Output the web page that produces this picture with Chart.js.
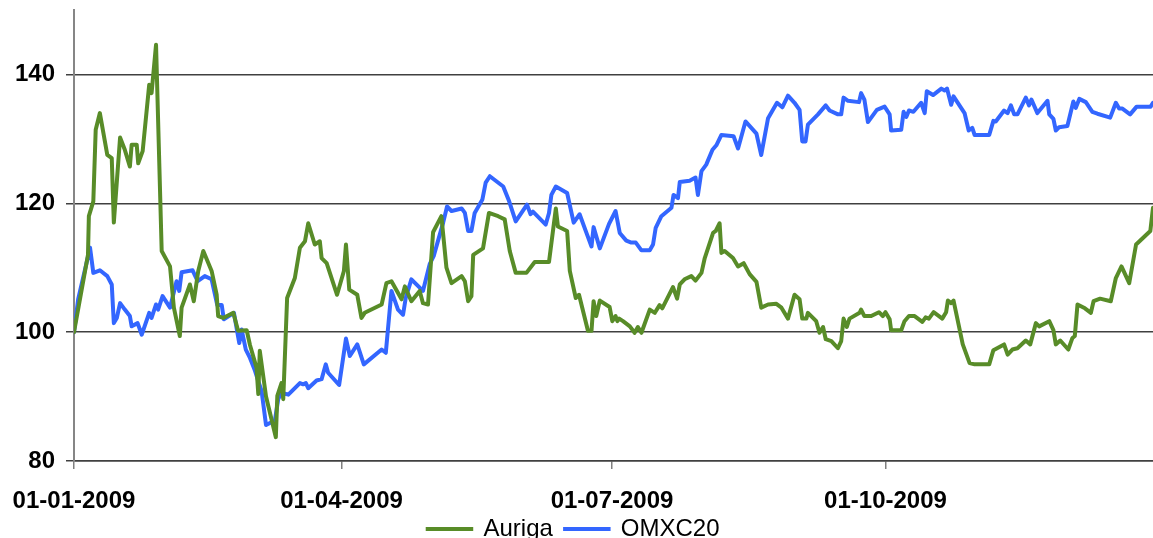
<!DOCTYPE html>
<html><head><meta charset="utf-8">
<script src="https://cdn.jsdelivr.net/npm/chart.js@4/dist/chart.umd.min.js"></script>
<style>html,body{margin:0;padding:0;background:#fff;overflow:hidden}#wrap{width:1153px;height:538px}</style>
</head><body><div id="wrap"><canvas id="c" width="1153" height="538"></canvas></div>
<script>
const seriesNames = ['Auriga', 'OMXC20'];
const tickDays = [0, 90, 181, 273];
const tickLabels = ['01-01-2009', '01-04-2009', '01-07-2009', '01-10-2009'];
const yTicks = [80, 100, 120, 140];

// days since 2009-01-01
const aurigaDays = [0,4.7,5.0,6.5,7.3,8.7,11.2,12.7,13.4,15.5,17.1,18.8,19.4,21.1,21.6,23.1,25.3,26.1,27.6,29.5,32.3,33.6,35.6,36.2,39.0,40.3,41.8,43.5,46.3,48.0,48.5,50.2,53.6,55.2,58.1,59.2,61.4,62.0,62.5,64.6,67.9,68.4,69.8,70.4,71.7,74.3,76.0,77.7,78.8,81.0,82.7,83.3,85.0,88.5,90.8,91.5,92.6,95.3,96.7,97.8,103.5,105.1,106.8,110.2,111.3,113.5,116.3,117.4,119.1,120.8,123.6,125.3,127.0,130.4,131.5,132.6,133.7,134.3,137.6,139.6,142.7,144.9,146.6,148.6,152.2,155.0,159.8,162.1,162.8,165.9,166.8,168.8,169.9,172.9,174.1,174.8,175.7,176.9,180.2,181.1,182.2,182.8,183.4,184.7,187.0,188.6,189.7,190.9,193.7,195.4,197.0,197.9,201.5,202.9,203.8,205.4,207.7,209.1,211.1,212.2,215.0,215.9,217.2,217.8,218.9,221.7,223.4,225.3,227.3,229.6,231.2,233.5,236.3,238.0,240.2,242.4,244.1,245.0,246.4,246.9,249.7,250.8,252.0,252.9,254.8,257.0,258.1,258.9,260.0,260.9,264.3,264.8,265.9,268.2,270.8,272.1,273.0,274.4,274.9,278.3,279.4,280.9,282.8,285.4,286.5,287.6,289.2,292.1,293.4,294.0,295.1,295.9,299.0,301.3,303.0,307.9,309.3,312.9,314.1,315.7,317.4,320.2,321.7,323.6,324.7,328.1,329.5,330.3,331.8,334.5,335.9,336.7,337.6,340.1,342.1,343.0,345.2,348.8,350.5,352.4,355.0,357.3,362.1,363];
const aurigaValues = [100,112.0,118.0,120.3,131.4,134.0,127.5,127.0,117.0,130.2,128.3,125.7,129.1,129.1,126.2,128.1,138.4,137.1,144.6,112.6,110.2,103.8,99.4,103.8,107.4,104.8,109.5,112.6,109.5,105.8,102.5,102.2,103.0,100.2,100.3,98.0,94.5,90.4,97.1,90.0,83.7,90.1,92.1,89.6,105.3,108.4,113.1,114.1,116.9,113.6,114.1,111.5,110.7,105.8,109.5,113.6,106.6,105.8,102.2,103.0,104.3,107.6,107.9,105.1,107.1,104.8,106.4,104.5,104.3,115.5,118.0,110.0,107.6,108.7,107.9,104.8,105.6,112.0,113.0,118.5,118.0,117.5,112.6,109.2,109.2,110.9,110.9,119.2,116.4,115.7,109.5,105.3,105.8,100.2,100.2,104.8,102.5,104.9,103.9,101.7,102.5,101.7,102.1,101.7,100.9,99.9,100.8,99.9,103.5,103.0,104.2,103.7,107.0,105.2,107.4,108.2,108.7,108.0,109.2,111.5,115.4,115.7,116.9,112.3,112.6,111.5,110.2,110.7,109.0,107.8,103.8,104.3,104.4,103.8,102.1,105.8,105.1,102.1,102.1,103.0,101.7,99.9,100.8,98.9,98.6,97.5,98.6,102.1,100.8,102.1,103.0,103.5,102.5,102.5,103.1,102.5,103.1,102.0,100.3,100.3,101.7,102.5,102.5,101.6,102.3,102.1,103.1,102.1,103.1,104.9,104.5,104.9,98.1,95.2,95.0,95.0,97.2,98.1,96.5,97.3,97.5,98.7,98.1,101.4,100.9,101.7,100.3,98.1,98.7,97.3,99.1,99.4,104.3,103.7,103.0,104.8,105.2,104.8,108.4,110.2,107.6,113.6,115.7,119.3];

const omxDays = [0,1.4,5.4,6.5,8.7,11.2,12.7,13.4,14.4,15.5,17.1,18.8,19.4,21.4,22.8,25.3,26.1,27.6,28.3,29.8,32.3,34.5,35.4,36.2,39.9,41.6,44.0,46.3,48.2,49.7,50.4,53.8,55.6,56.4,57.8,59.2,60.9,62.0,63.1,64.6,67.6,68.7,69.8,72.1,76.0,77.1,78.0,78.8,81.6,83.3,84.7,85.5,89.2,91.5,92.8,95.3,97.5,103.5,104.9,106.8,109.0,110.7,111.6,113.5,117.4,119.7,121.0,124.2,125.5,127.0,130.4,131.5,132.6,133.7,134.8,137.4,138.5,139.9,144.4,146.4,148.6,152.4,153.6,154.4,158.7,159.8,160.6,162.1,165.9,168.1,170.1,172.4,174.1,174.8,176.9,180.0,182.2,183.6,185.8,187.5,189.0,190.9,193.7,194.8,195.7,197.6,201.0,201.7,203.2,203.8,207.1,209.1,209.9,211.1,212.7,214.8,216.1,217.8,221.9,223.4,225.9,229.6,231.2,233.5,236.5,238.3,240.2,242.4,244.1,245.0,246.1,246.9,250.3,252.9,254.2,257.0,258.1,258.9,260.4,264.1,264.8,265.9,267.1,270.1,272.7,274.4,274.9,278.3,279.1,280.0,280.9,282.4,285.0,286.2,286.9,289.0,291.8,292.9,293.7,295.1,295.9,299.6,301.0,302.2,303.0,307.9,309.3,310.1,312.9,314.1,315.2,316.3,317.4,320.2,321.3,322.1,324.1,327.5,328.1,329.5,330.3,331.4,334.2,336.2,337.0,338.2,340.4,342.6,344.3,348.6,350.5,351.6,352.7,355.3,357.5,362.2,363];
const omxValues = [100,105.1,113.1,109.2,109.6,108.7,107.4,101.4,102.2,104.5,103.5,102.5,100.9,101.4,99.6,103.0,102.2,104.3,103.5,105.6,103.8,107.9,106.4,109.3,109.6,107.9,108.7,108.2,104.2,104.2,102.0,103.0,98.3,100.4,97.3,96.0,94.0,92.4,90.9,85.6,86.3,89.6,90.6,90.3,92.1,91.9,92.1,91.3,92.5,92.7,95.0,93.7,91.8,99.0,96.3,98.1,95.0,97.3,96.8,106.4,103.5,102.7,105.3,108.2,106.4,110.6,111.8,117.0,119.5,118.8,119.2,118.5,115.7,115.7,118.5,120.6,123.2,124.2,122.6,120.3,117.2,119.8,118.3,118.7,116.7,118.5,121.3,122.6,121.6,117.0,118.3,115.4,113.3,116.3,113.0,116.8,118.8,115.4,114.2,113.9,113.9,112.7,112.7,113.6,116.2,118.0,119.3,121.3,120.8,123.3,123.5,124.0,121.3,125.0,126.0,128.3,129.0,130.6,130.4,128.5,132.7,130.8,127.5,133.2,135.6,134.9,136.7,135.6,134.5,129.6,129.6,132.2,133.8,135.2,134.4,133.8,133.8,136.4,135.9,135.7,137.1,136.1,132.6,134.5,135.0,133.8,131.3,131.4,134.2,133.4,134.4,134.2,135.6,134.0,137.4,136.8,137.8,137.5,137.8,135.3,136.6,134.0,131.3,131.7,130.6,130.6,132.8,132.7,134.4,134.0,135.2,133.8,133.8,136.4,135.2,136.1,134.0,135.9,133.8,133.1,131.3,131.8,132.0,135.8,134.8,136.2,135.7,134.2,133.9,133.3,135.6,134.7,134.7,133.8,135.0,135.0,135.6];

const colors = ['#588c28', '#3366ff'];
const LEGEND_PAD = 12;
const LEGEND_SHIFT = 13;
const LEGEND_DX = -3;
const PLOT_BOTTOM = 461;

const layoutFix = {
  id: 'layoutFix',
  afterLayout(chart) {
    const l = chart.legend;
    if (l) { l.top += LEGEND_SHIFT; l.bottom += LEGEND_SHIFT; l.left += LEGEND_DX; l.right += LEGEND_DX; }
    const x = chart.scales.x;
    x.bottom = chart.height; x.height = x.bottom - x.top;
  }
};

const toPoints = (days, vals) => days.map((d, i) => ({x: d, y: vals[i]}));

new Chart(document.getElementById('c').getContext('2d'), {
  type: 'line',
  data: {
    datasets: [
      {label: seriesNames[0], data: toPoints(aurigaDays, aurigaValues), borderColor: colors[0], backgroundColor: colors[0], borderWidth: 4, pointRadius: 0, tension: 0, borderJoinStyle: 'round', borderCapStyle: 'round'},
      {label: seriesNames[1], data: toPoints(omxDays, omxValues), borderColor: colors[1], backgroundColor: colors[1], borderWidth: 4, pointRadius: 0, tension: 0, borderJoinStyle: 'round', borderCapStyle: 'round'}
    ]
  },
  options: {
    responsive: false,
    animation: false,
    layout: {padding: {top: 10, left: 0, right: 0, bottom: 0}},
    plugins: {
      tooltip: {enabled: false},
      legend: {
        position: 'bottom',
        labels: {
          font: {family: 'Liberation Sans', size: 24},
          color: '#000',
          boxWidth: 44,
          boxHeight: 0.5,
          padding: LEGEND_PAD,
          generateLabels: (chart) => chart.data.datasets.map((ds, i) => ({
            text: ds.label, fillStyle: ds.borderColor, strokeStyle: ds.borderColor,
            lineWidth: 3.5, hidden: false, datasetIndex: i, fontColor: '#000'
          }))
        }
      }
    },
    scales: {
      x: {
        type: 'linear', min: 0, max: 363,
        afterFit: (s) => {
          const lh = s.chart.legend ? s.chart.legend.height : 0;
          s.height = s.chart.height - PLOT_BOTTOM - lh;
          s.paddingLeft = 0; s.paddingRight = 0;
        },
        afterBuildTicks: (s) => { s.ticks = tickDays.map(v => ({value: v})); },
        ticks: {
          autoSkip: false, maxRotation: 0, padding: 18, color: '#000',
          font: {family: 'Liberation Sans', size: 24, weight: 'bold'},
          callback: (v) => tickLabels[tickDays.indexOf(v)] ?? ''
        },
        grid: {drawOnChartArea: false, drawTicks: true, tickLength: 8, color: '#808080', lineWidth: 1.5},
        border: {display: true, color: '#404040', width: 1.5}
      },
      y: {
        min: 80, max: 150,
        afterFit: (s) => { s.width = 74; s.paddingTop = 0; s.paddingBottom = 0; },
        afterBuildTicks: (s) => { s.ticks = yTicks.map(v => ({value: v})); },
        ticks: {
          padding: 11, color: '#000',
          font: {family: 'Liberation Sans', size: 24, weight: 'bold'}
        },
        grid: {color: '#404040', lineWidth: 1.5, tickLength: 8, drawTicks: true},
        border: {display: true, color: '#868686', width: 2}
      }
    }
  },
  plugins: [layoutFix]
});
</script></body></html>
